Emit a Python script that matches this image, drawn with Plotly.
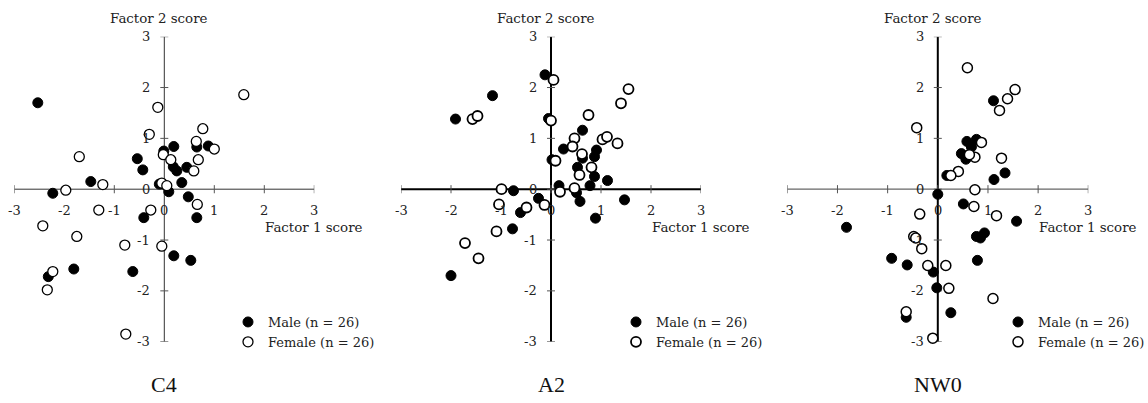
import plotly.graph_objects as go

# ---------------- data ----------------
panel_names = ["C4", "A2", "NW0"]
tick_values = [-3, -2, -1, 0, 1, 2, 3]
tick_labels = ["-3", "-2", "-1", "0", "1", "2", "3"]
legend_labels = ["Male (n = 26)", "Female (n = 26)"]

c4_male_x = [-2.53, -2.23, -1.47, -0.54, -0.43, -0.10, -0.01, 0.19, 0.18, 0.25, 0.45, 0.35,
             0.09, 0.48, 0.65, 0.88, 0.65, -0.41, 0.19, 0.53, -0.63, -1.81, -2.32]
c4_male_y = [1.70, -0.08, 0.15, 0.60, 0.38, 0.10, 0.75, 0.84, 0.44, 0.36, 0.43, 0.13,
             -0.05, -0.15, 0.83, 0.85, -0.56, -0.56, -1.31, -1.40, -1.62, -1.57, -1.72]
c4_female_x = [1.59, -0.13, -0.30, 0.77, 0.64, 1.00, -0.02, 0.13, 0.68, 0.59, -1.70, -1.97, -1.23,
               -0.05, 0.05, -1.31, -0.27, 0.66, -2.43, -1.75, -0.79, -0.05, -2.23, -2.34, -0.77]
c4_female_y = [1.86, 1.61, 1.08, 1.19, 0.94, 0.79, 0.68, 0.58, 0.58, 0.36, 0.64, -0.02, 0.09,
               0.12, 0.07, -0.41, -0.41, -0.30, -0.72, -0.93, -1.10, -1.12, -1.62, -1.98, -2.85]

a2_male_x = [-0.12, -1.17, -1.91, 0.63, 0.25, 0.63, 0.91, 0.87, 0.53, 0.87, 1.13, 0.78,
             0.16, 0.51, 0.58, 1.47, 0.89, -0.25, -0.61, -0.75, -0.77, -2.00, -0.05, 0.02]
a2_male_y = [2.25, 1.84, 1.38, 1.16, 0.79, 0.61, 0.77, 0.64, 0.43, 0.25, 0.17, 0.07,
             0.07, -0.07, -0.24, -0.21, -0.57, -0.18, -0.46, -0.03, -0.78, -1.70, 1.39, 0.58]
a2_female_x = [0.05, -1.57, -1.47, 0.00, 0.75, 1.40, 1.55, 0.47, 0.43, 1.03, 1.12, 1.33, 0.09,
               0.62, 0.81, 0.57, 0.47, 0.18, -0.99, -1.04, -0.13, -0.49, -1.09, -1.72, -1.45]
a2_female_y = [2.15, 1.38, 1.44, 1.35, 1.46, 1.69, 1.97, 1.00, 0.84, 0.98, 1.03, 0.90, 0.56,
               0.69, 0.43, 0.28, 0.02, -0.05, 0.00, -0.30, -0.31, -0.36, -0.83, -1.06, -1.36]

nw0_male_x = [-1.82, -0.92, -0.61, -0.09, -0.02, 0.26, -0.63, 0.00, 0.51, 0.79, 0.77, 0.85,
              0.93, 1.57, 1.12, 1.34, 1.11, 0.58, 0.77, 0.67, 0.47, 0.56, 0.18]
nw0_male_y = [-0.75, -1.36, -1.49, -1.63, -1.94, -2.43, -2.52, -0.10, -0.29, -1.40, -0.93, -0.96,
              -0.86, -0.63, 0.19, 0.32, 1.74, 0.94, 0.98, 0.83, 0.70, 0.59, 0.27]
nw0_female_x = [0.59, 1.54, 1.39, 1.23, -0.42, 0.87, 0.74, 0.63, 1.27, 0.41, 0.26, 0.74, 0.72,
                1.17, -0.36, -0.48, -0.44, -0.32, -0.20, 0.16, 0.22, 1.10, -0.63, -0.10]
nw0_female_y = [2.39, 1.96, 1.78, 1.55, 1.21, 0.92, 0.63, 0.68, 0.61, 0.35, 0.27, -0.01, -0.34,
                -0.52, -0.49, -0.93, -0.96, -1.17, -1.50, -1.50, -1.95, -2.15, -2.41, -2.93]

male_x = [c4_male_x, a2_male_x, nw0_male_x]
male_y = [c4_male_y, a2_male_y, nw0_male_y]
female_x = [c4_female_x, a2_female_x, nw0_female_x]
female_y = [c4_female_y, a2_female_y, nw0_female_y]

# ---------------- layout geometry ----------------
W, H = 1148, 403
x_px = [(14.3, 314.3), (401.0, 701.0), (787.3, 1088.3)]
y_px = (36.7, 341.7)  # top (y=3), bottom (y=-3)
ydom = [1 - y_px[1] / H, 1 - y_px[0] / H]
legend_left_px = [228, 616, 998]
legend_top_px = 307

FONT = "DejaVu Serif"
fig = go.Figure()
layout = dict(
    width=W, height=H,
    margin=dict(l=0, r=0, t=0, b=0, autoexpand=False),
    paper_bgcolor="white", plot_bgcolor="white",
    font=dict(family=FONT, size=12, color="#222"),
)
shapes, annotations = [], []

hline_style = [dict(color="#333", width=1), dict(color="black", width=2), dict(color="#666", width=1.2)]
vline_style = [dict(color="#333", width=1), dict(color="black", width=2), dict(color="black", width=2)]
outline_w = [1.3, 1.8, 1.5]

for i in range(3):
    sfx = "" if i == 0 else str(i + 1)
    xa, ya = "x" + sfx, "y" + sfx
    leg = "legend" + sfx
    layout["xaxis" + sfx] = dict(domain=[x_px[i][0] / W, x_px[i][1] / W], range=[-3, 3],
                                 visible=False, anchor=ya)
    layout["yaxis" + sfx] = dict(domain=ydom, range=[-3, 3], visible=False, anchor=xa)

    fig.add_trace(go.Scatter(
        x=male_x[i], y=male_y[i], mode="markers", xaxis=xa, yaxis=ya, legend=leg,
        name=legend_labels[0], cliponaxis=False,
        marker=dict(size=10, color="black", line=dict(color="black", width=1))))
    fig.add_trace(go.Scatter(
        x=female_x[i], y=female_y[i], mode="markers", xaxis=xa, yaxis=ya, legend=leg,
        name=legend_labels[1], cliponaxis=False,
        marker=dict(size=10, color="white", line=dict(color="black", width=outline_w[i]))))

    layout[leg] = dict(x=legend_left_px[i] / W, xanchor="left", y=1 - legend_top_px / H,
                       yanchor="top", bgcolor="rgba(0,0,0,0)", borderwidth=0,
                       font=dict(family=FONT, size=13, color="#222"),
                       tracegroupgap=0, itemclick=False)

    # axis lines
    shapes.append(dict(type="line", xref=xa, yref=ya, x0=tick_values[0], x1=tick_values[-1],
                       y0=0, y1=0, line=hline_style[i], layer="below"))
    shapes.append(dict(type="line", xref=xa, yref=ya, y0=tick_values[0], y1=tick_values[-1],
                       x0=0, x1=0, line=vline_style[i], layer="below"))
    for t, lab in zip(tick_values, tick_labels):
        shapes.append(dict(type="line", xref=xa, yref=ya, x0=-0.08, x1=0.08, y0=t, y1=t,
                           line=dict(color="#555", width=1), layer="below"))
        shapes.append(dict(type="line", xref=xa, yref=ya, x0=t, x1=t, y0=-0.08, y1=0.08,
                           line=dict(color="#555", width=1), layer="below"))
        annotations.append(dict(xref=xa, yref=ya, x=0, y=t, text=lab, showarrow=False,
                                xanchor="right", yanchor="middle", xshift=-12,
                                font=dict(family=FONT, size=13, color="#222")))
        annotations.append(dict(xref=xa, yref=ya, x=t, y=0, text=lab, showarrow=False,
                                xanchor="center", yanchor="middle", yshift=-21,
                                font=dict(family=FONT, size=13, color="#222")))
    annotations.append(dict(xref=xa, yref=ya, x=0, y=3, text="Factor 2 score", showarrow=False,
                            xanchor="center", yanchor="middle", xshift=-5, yshift=18,
                            font=dict(family=FONT, size=13.4, color="#222")))
    annotations.append(dict(xref=xa, yref=ya, x=3, y=0, text="Factor 1 score", showarrow=False,
                            xanchor="center", yanchor="middle", yshift=-38,
                            font=dict(family=FONT, size=13.4, color="#222")))
    annotations.append(dict(xref=xa, yref="paper", x=0, y=1 - 384 / H, text=panel_names[i],
                            showarrow=False, xanchor="center", yanchor="middle",
                            font=dict(family="Liberation Serif", size=22, color="#111")))

layout["shapes"] = shapes
layout["annotations"] = annotations
fig.update_layout(**layout)
fig.write_html("out.html", config={"displayModeBar": False, "staticPlot": True},
               post_script="document.body.style.margin='0px';document.body.style.overflow='hidden';")
